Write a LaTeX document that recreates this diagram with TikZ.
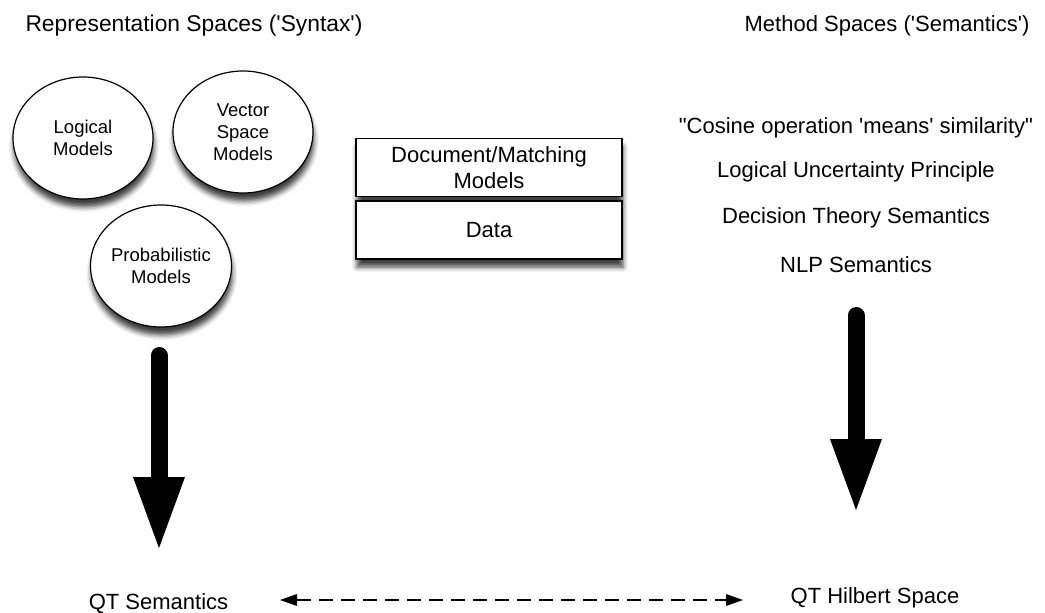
\documentclass[tikz,border=0pt]{standalone}
\usepackage{fontspec}
\setmainfont{Liberation Sans}
\usetikzlibrary{shapes.geometric,arrows.meta,shadows.blur}

\begin{document}
\begin{tikzpicture}[x=1pt,y=-1pt,
  model/.style={ellipse, draw, line width=1.2pt, fill=white,
    minimum width=140pt, minimum height=122pt, inner sep=0pt, align=center,
    font=\fontsize{18.5}{22}\selectfont,
    blur shadow={shadow xshift=1pt, shadow yshift=-8pt,
      shadow blur radius=5pt, shadow opacity=75}},
  layer/.style={rectangle, draw, line width=1.5pt, fill=white,
    minimum width=266pt, minimum height=58pt, inner sep=0pt, align=center,
    font=\fontsize{22}{26.5}\selectfont,
    blur shadow={shadow xshift=1pt, shadow yshift=-8pt,
      shadow blur radius=5pt, shadow opacity=75}},
  plaintext/.style={anchor=base, inner sep=0pt, font=\fontsize{22}{26}\selectfont},
  bigarrow/.style={line width=17pt, line cap=round,
    -{Triangle[length=71pt,width=52pt,line width=0pt]}},
  link/.style={line width=1.5pt, dash pattern=on 14pt off 8pt,
    {Triangle[length=17pt,width=12pt,line width=0pt]}-{Triangle[length=17pt,width=12pt,line width=0pt]}}
]
\useasboundingbox (0,0) rectangle (1045,613);

% column headings
\node[plaintext, font=\fontsize{22.8}{26}\selectfont] (repr) at (194,31)
  {Representation Spaces (\textquotesingle Syntax\textquotesingle)};
\node[plaintext] (meth) at (887,31)
  {Method Spaces (\textquotesingle Semantics\textquotesingle)};

% representation models
\node[model] (logical) at (83,138) {Logical\\Models};
\node[model] (vector) at (243,132) {Vector\\Space\\Models};
\node[model] (prob) at (161,266) {Probabilistic\\Models};

% stacked layers
\node[layer] (docmodels) at (489,167.5) {Document/Matching\\Models};
\node[layer] (data) at (489,230) {Data};

% method semantics
\node[plaintext] (cosine) at (856,133)
  {\textquotedbl Cosine operation \textquotesingle means\textquotesingle\ similarity\textquotedbl};
\node[plaintext] (lup) at (856,177) {Logical Uncertainty Principle};
\node[plaintext] (dts) at (856,223) {Decision Theory Semantics};
\node[plaintext] (nlp) at (856,272) {NLP Semantics};

% targets
\node[plaintext] (qtsem) at (158.5,609) {QT Semantics};
\node[plaintext] (qthil) at (875,603) {QT Hilbert Space};

% arrows
\coordinate (lefttop) at (159,355.5);
\coordinate (leftend) at (159,548);
\coordinate (righttop) at (856,315.5);
\coordinate (rightend) at (856,510);
\draw[bigarrow] (lefttop) -- (leftend);
\draw[bigarrow] (righttop) -- (rightend);

\coordinate (linkl) at (280,600);
\coordinate (linkr) at (743,600);
\draw[link] (linkl) -- (linkr);
\end{tikzpicture}
\end{document}
